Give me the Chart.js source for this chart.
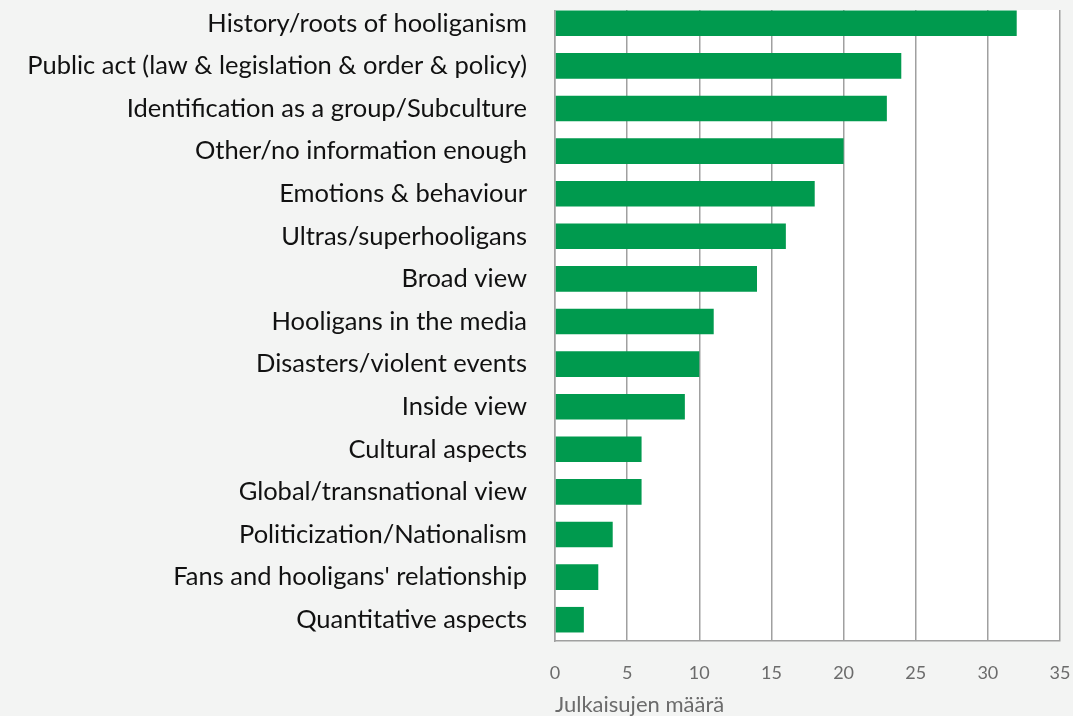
<!DOCTYPE html>
<html>
<head>
<meta charset="utf-8">
<script src="https://cdn.jsdelivr.net/npm/chart.js@4/dist/chart.umd.min.js"></script>
<style>
  html, body { margin: 0; padding: 0; background: #f3f4f3; }
  #wrap { width: 1073px; height: 716px; }
</style>
</head>
<body>
<div id="wrap"><canvas id="chart"></canvas></div>
<script>
const categories = [
  'History/roots of hooliganism',
  'Public act (law & legislation & order & policy)',
  'Identification as a group/Subculture',
  'Other/no information enough',
  'Emotions & behaviour',
  'Ultras/superhooligans',
  'Broad view',
  'Hooligans in the media',
  'Disasters/violent events',
  'Inside view',
  'Cultural aspects',
  'Global/transnational view',
  'Politicization/Nationalism',
  "Fans and hooligans' relationship",
  'Quantitative aspects'
]
const counts = [32, 24, 23, 20, 18, 16, 14, 11, 10, 9, 6, 6, 4, 3, 2]
const axisTitle = 'Julkaisujen määrä'

const PAGE_BG = '#f3f4f3'
const TOP_GAP = 8

// white plot panel, starting a little below the first category band
const plotBackground = {
  id: 'plotBackground',
  beforeDraw(chart) {
    const { ctx, chartArea: a } = chart
    ctx.save()
    ctx.fillStyle = '#ffffff'
    ctx.fillRect(a.left, a.top + TOP_GAP, a.right - a.left, a.bottom - a.top - TOP_GAP)
    ctx.restore()
  },
  beforeDatasetsDraw(chart) {
    const { ctx, chartArea: a } = chart
    ctx.save()
    ctx.fillStyle = PAGE_BG
    ctx.fillRect(a.left - 2, a.top - 2, a.right - a.left + 4, TOP_GAP + 2)
    ctx.restore()
  }
}

new Chart(document.getElementById('chart'), {
  type: 'bar',
  data: {
    labels: categories,
    datasets: [{
      data: counts,
      backgroundColor: '#009a4e',
      barPercentage: 0.6,
      categoryPercentage: 1
    }]
  },
  options: {
    indexAxis: 'y',
    responsive: true,
    maintainAspectRatio: false,
    animation: false,
    layout: { padding: { top: 2, right: 13, left: 0, bottom: 0 } },
    plugins: {
      legend: { display: false },
      tooltip: { enabled: false }
    },
    scales: {
      x: {
        min: 0,
        max: 35,
        ticks: {
          stepSize: 5,
          color: '#6b6b6b',
          font: { family: 'Lato', size: 18 },
          padding: 21
        },
        grid: { color: '#a0a0a0', lineWidth: 1.5, drawTicks: false },
        border: { color: '#a0a0a0', width: 1.5 },
        title: {
          display: true,
          text: axisTitle,
          color: '#6b6b6b',
          font: { family: 'Lato', size: 22, lineHeight: 1 },
          align: 'start',
          padding: { top: 8, bottom: 0 }
        },
        afterFit(scale) {
          scale.height = 75
          scale.paddingLeft = 0
          scale.paddingRight = 0
        }
      },
      y: {
        ticks: {
          color: '#111111',
          font: { family: 'Lato', size: 25.5 },
          padding: 20
        },
        grid: { display: false },
        border: { color: '#a0a0a0', width: 1.5 },
        afterFit(scale) {
          scale.width = 555
          scale.paddingTop = 0
          scale.paddingBottom = 0
        }
      }
    }
  },
  plugins: [plotBackground]
})
</script>
</body>
</html>
